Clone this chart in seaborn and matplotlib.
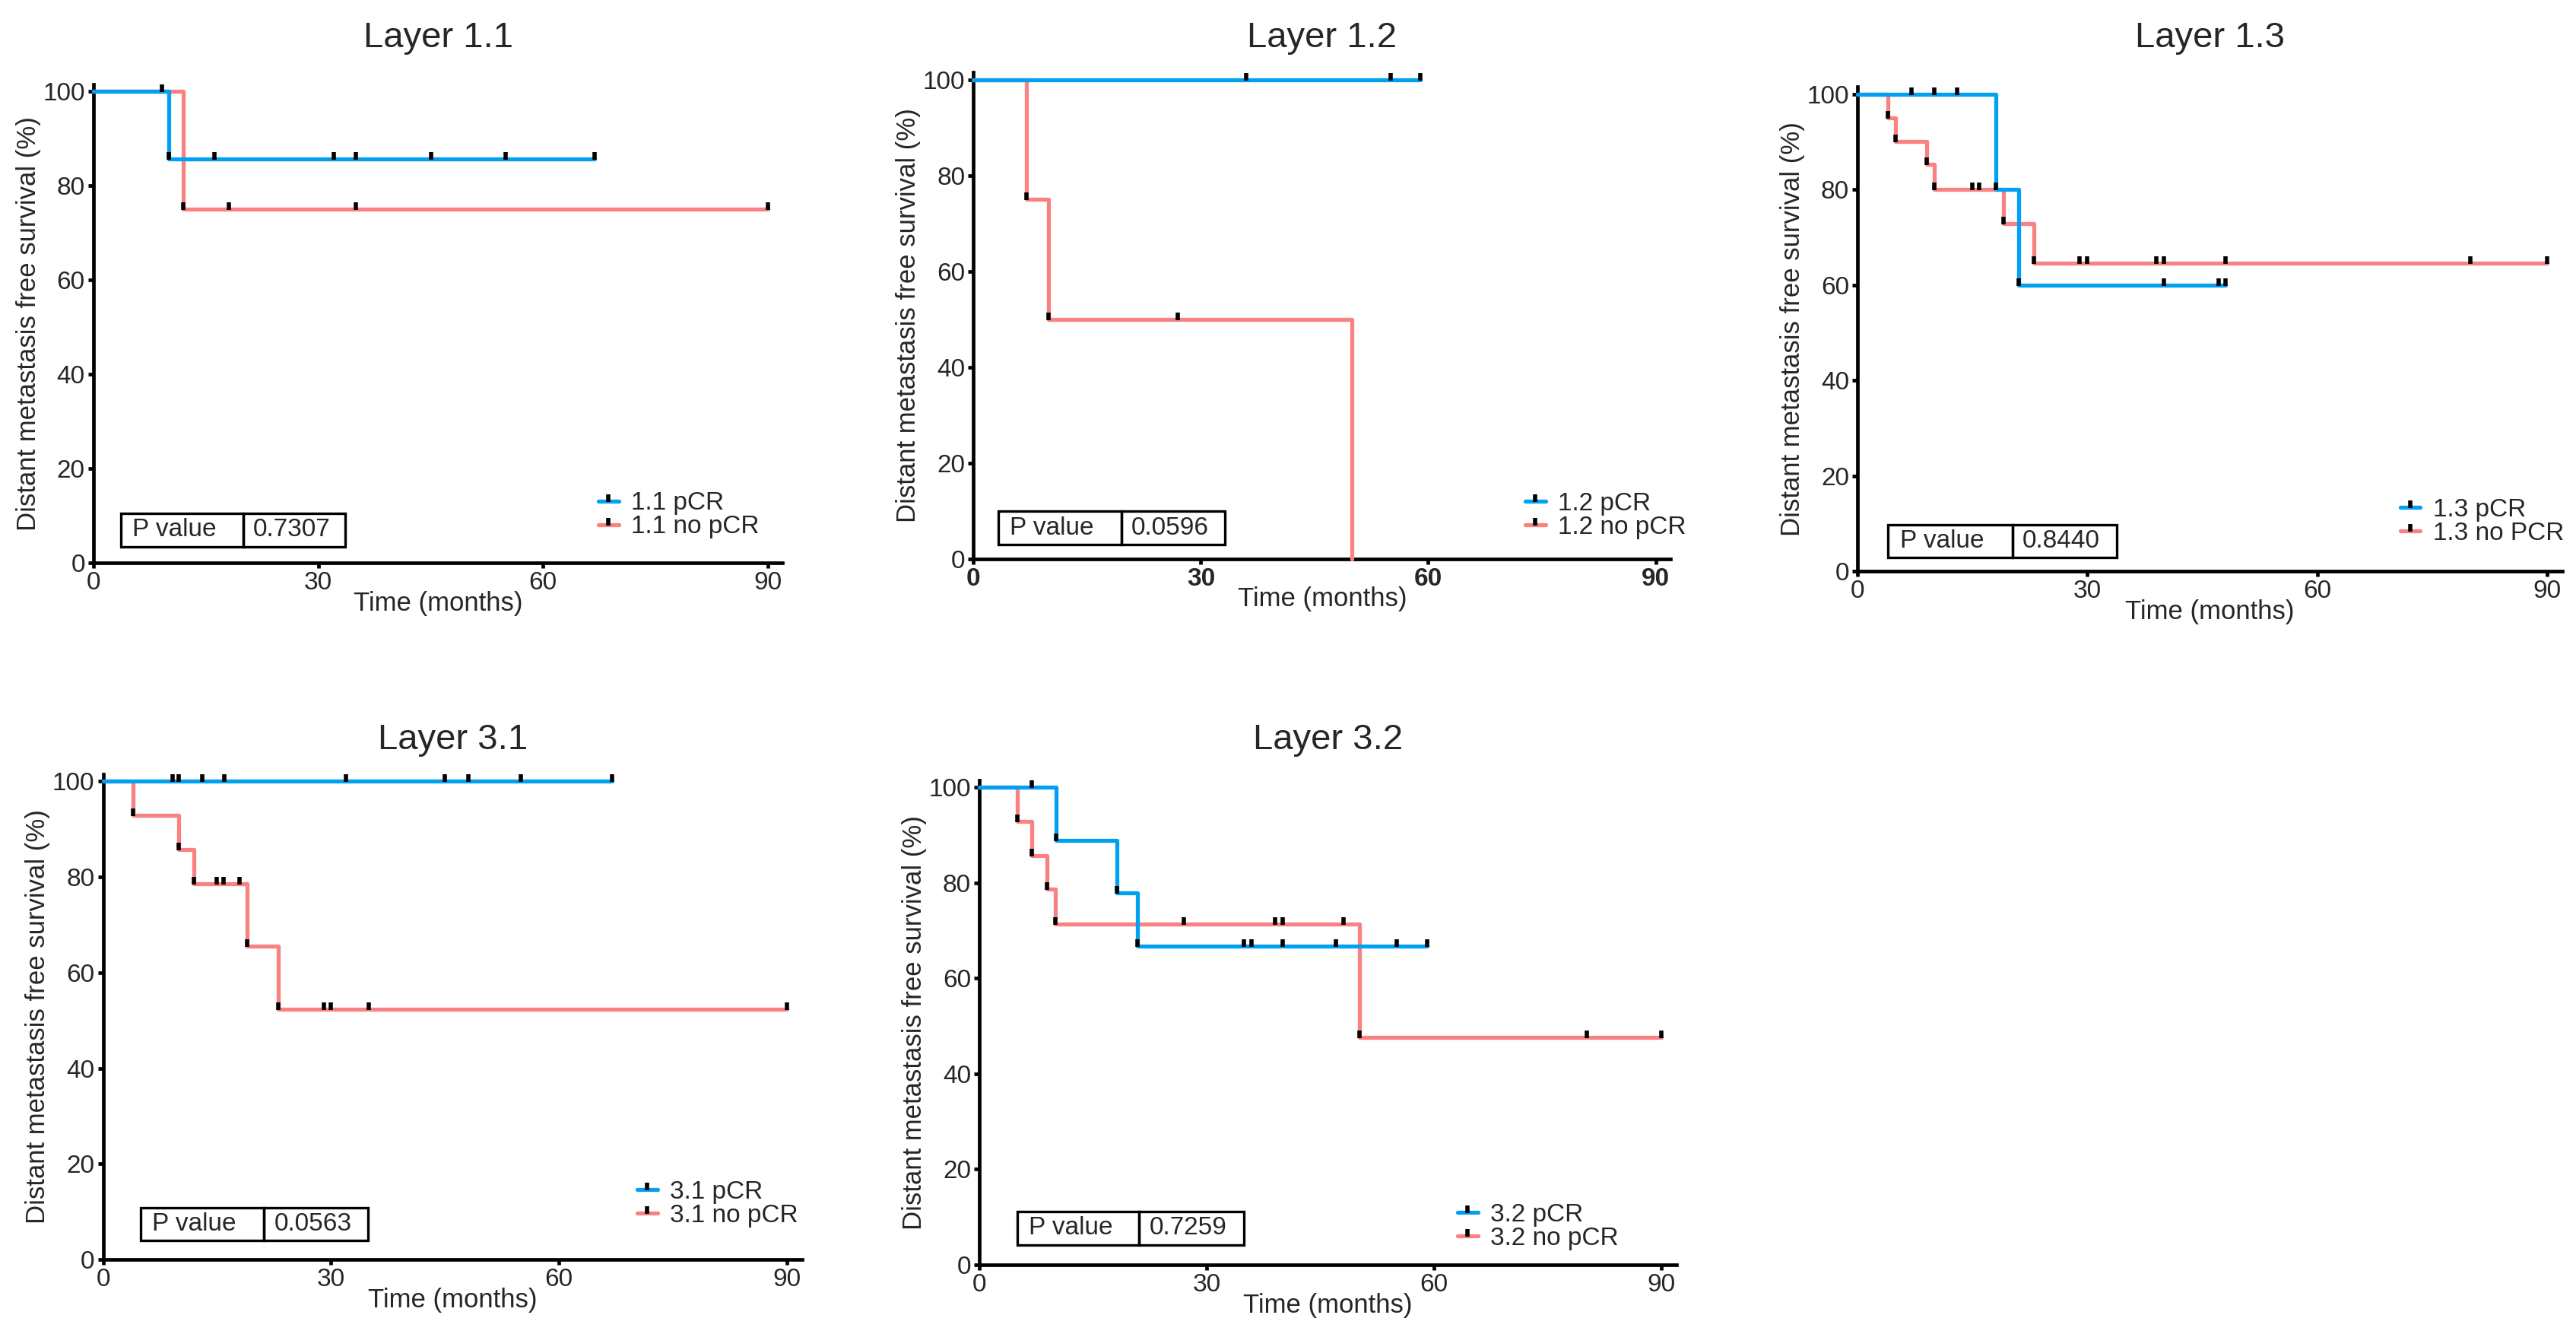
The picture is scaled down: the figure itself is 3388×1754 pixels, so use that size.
import matplotlib
matplotlib.use('Agg')
import numpy as np
import matplotlib.pyplot as plt
from matplotlib.path import Path
from matplotlib.lines import Line2D
from matplotlib.patches import Rectangle
import seaborn as sns

sns.set_theme(style='ticks')
plt.rcParams['font.family'] = ['Liberation Sans', 'DejaVu Sans']

BLUE = '#02A0F0'
RED = '#F98181'

## panel texts
layers = ['Layer 1.1', 'Layer 1.2', 'Layer 1.3', 'Layer 3.1', 'Layer 3.2']
p_values = ['0.7307', '0.0596', '0.8440', '0.0563', '0.7259']
pcr_labels = ['1.1 pCR', '1.2 pCR', '1.3 pCR', '3.1 pCR', '3.2 pCR']
nopcr_labels = ['1.1 no pCR', '1.2 no pCR', '1.3 no PCR', '3.1 no pCR', '3.2 no pCR']

## Layer 1.1
l11_pcr_t = [0, 10.1, 66.9]
l11_pcr_s = [100, 85.7, 85.7]
l11_pcr_c = [9.1, 10.1, 16.1, 32.1, 35.0, 45.1, 55.0, 66.9]
l11_no_t = [0, 12.0, 90.0]
l11_no_s = [100, 75.0, 75.0]
l11_no_c = [12.0, 18.1, 35.0, 90.0]

## Layer 1.2
l12_pcr_t = [0, 59.0]
l12_pcr_s = [100, 100]
l12_pcr_c = [36.0, 55.0, 59.0]
l12_no_t = [0, 7.0, 9.9, 49.9]
l12_no_s = [100, 75.0, 50.0, 0]
l12_no_c = [7.0, 9.9, 27.0]

## Layer 1.3
l13_pcr_t = [0, 18.0, 21.0, 48.0]
l13_pcr_s = [100, 80.0, 60.0, 60.0]
l13_pcr_c = [7.0, 10.0, 13.0, 18.0, 21.0, 40.0, 47.1, 48.0]
l13_no_t = [0, 4.0, 5.0, 9.0, 10.0, 19.0, 23.0, 90.0]
l13_no_s = [100, 95.0, 90.0, 85.3, 80.0, 72.9, 64.6, 64.6]
l13_no_c = [4.0, 5.0, 9.0, 10.0, 15.0, 15.9, 19.0, 23.0, 29.0, 30.0, 39.0, 40.0, 48.0, 80.0, 90.0]

## Layer 3.1
l31_pcr_t = [0, 67.0]
l31_pcr_s = [100, 100]
l31_pcr_c = [9.2, 10.0, 13.1, 16.0, 32.0, 45.0, 48.1, 55.0, 67.0]
l31_no_t = [0, 4.0, 10.0, 12.0, 19.0, 23.1, 90.0]
l31_no_s = [100, 92.9, 85.7, 78.6, 65.5, 52.4, 52.4]
l31_no_c = [4.0, 10.0, 12.0, 15.0, 15.9, 18.0, 19.0, 23.1, 29.1, 30.0, 35.0, 90.0]

## Layer 3.2
l32_pcr_t = [0, 10.1, 18.1, 20.9, 59.1]
l32_pcr_s = [100, 88.9, 77.8, 66.7, 66.7]
l32_pcr_c = [6.9, 10.1, 18.1, 20.9, 34.9, 35.9, 40.0, 47.0, 55.1, 59.1]
l32_no_t = [0, 5.0, 6.9, 8.9, 10.0, 50.1, 90.0]
l32_no_s = [100, 92.9, 85.7, 78.6, 71.4, 47.6, 47.6]
l32_no_c = [5.0, 6.9, 8.9, 10.0, 27.0, 39.0, 40.0, 48.0, 50.1, 80.1, 90.0]

curves = [
    ((l11_pcr_t, l11_pcr_s, l11_pcr_c), (l11_no_t, l11_no_s, l11_no_c)),
    ((l12_pcr_t, l12_pcr_s, l12_pcr_c), (l12_no_t, l12_no_s, l12_no_c)),
    ((l13_pcr_t, l13_pcr_s, l13_pcr_c), (l13_no_t, l13_no_s, l13_no_c)),
    ((l31_pcr_t, l31_pcr_s, l31_pcr_c), (l31_no_t, l31_no_s, l31_no_c)),
    ((l32_pcr_t, l32_pcr_s, l32_pcr_c), (l32_no_t, l32_no_s, l32_no_c)),
]

## layout (figure fractions / axes placement)
axes_rects = [
    [0.0363, 0.5781, 0.2675, 0.3588],
    [0.3779, 0.5811, 0.2707, 0.3646],
    [0.7211, 0.5718, 0.2737, 0.3631],
    [0.0400, 0.0559, 0.2713, 0.3637],
    [0.3802, 0.0519, 0.2707, 0.3634],
]
title_y = [0.9647, 0.9647, 0.9647, 0.4384, 0.4384]
legend_xy = [(67.4, 10.1), (72.8, 9.0), (70.8, 10.4), (70.3, 11.6), (63.1, 8.0)]
# p value box: left, divider, right, bottom, top
box_ext = [
    (3.7, 20.0, 33.6, 3.4, 10.5),
    (3.3, 19.5, 33.2, 2.9, 9.9),
    (4.0, 20.2, 33.8, 2.8, 9.7),
    (5.0, 21.2, 34.9, 3.9, 10.8),
    (5.0, 21.1, 34.9, 4.2, 11.1),
]
bold_xticks = [False, True, False, False, False]

XMAX, YMAX = 92, 101.5
LW = 1.9
tick_marker = Path([(0, -0.1), (0, 1)])

fig = plt.figure(figsize=(16.94, 8.77), dpi=200)

for i in range(5):
    ax = fig.add_axes(axes_rects[i])
    pcr, nopcr = curves[i]
    for (t, s, c), col in [(nopcr, RED), (pcr, BLUE)]:
        sns.lineplot(x=t, y=s, ax=ax, color=col, lw=LW, drawstyle='steps-post',
                     estimator=None, sort=False, legend=False, clip_on=False, zorder=3)
        idx = np.searchsorted(np.array(t), np.array(c), side='right') - 1
        cy = np.array(s)[idx]
        ax.plot(c, cy, ls='none', marker=tick_marker, ms=6.5, mew=2.0,
                color='black', clip_on=False, zorder=4)

    ax.set_xlim(0, XMAX)
    ax.set_ylim(0, YMAX)
    ax.set_xticks([0, 30, 60, 90])
    ax.set_yticks([0, 20, 40, 60, 80, 100])
    ax.tick_params(axis='both', length=2.5, width=1.7, pad=1.5, labelsize=12, color='black')
    if bold_xticks[i]:
        for lbl in ax.get_xticklabels():
            lbl.set_fontweight('bold')
    for sp in ['left', 'bottom']:
        ax.spines[sp].set_linewidth(1.7)
        ax.spines[sp].set_color('black')
    sns.despine(ax=ax)
    ax.set_xlabel('Time (months)', fontsize=12.5, labelpad=-2)
    ax.set_ylabel('Distant metastasis free survival (%)', fontsize=12.5, labelpad=1)

    # title
    x0, y0, w, h = axes_rects[i]
    fig.text(x0 + w / 2, title_y[i], layers[i], ha='center', va='baseline', fontsize=17)

    # p value box
    bl, bd, br, bb, bt = box_ext[i]
    ax.add_patch(Rectangle((bl, bb), bd - bl, bt - bb, fill=False, lw=1.2, ec='black', zorder=5))
    ax.add_patch(Rectangle((bd, bb), br - bd, bt - bb, fill=False, lw=1.2, ec='black', zorder=5))
    ax.text(bl + 1.5, (bb + bt) / 2, 'P value', ha='left', va='center', fontsize=12)
    ax.text(bd + 1.3, (bb + bt) / 2, p_values[i], ha='left', va='center', fontsize=12)

    # legend
    handles = [
        Line2D([0], [0], color=BLUE, lw=LW, marker=tick_marker, ms=6.5, mew=2.0, mec='black'),
        Line2D([0], [0], color=RED, lw=LW, marker=tick_marker, ms=6.5, mew=2.0, mec='black'),
    ]
    lx, ly = legend_xy[i]
    ax.legend(handles, [pcr_labels[i], nopcr_labels[i]], loc='center left',
              bbox_to_anchor=(lx / XMAX, ly / YMAX), frameon=False, borderaxespad=0,
              borderpad=0, handlelength=0.8, handletextpad=0.5, labelspacing=0,
              fontsize=12, numpoints=1)

fig.savefig('out.png', dpi=200)
